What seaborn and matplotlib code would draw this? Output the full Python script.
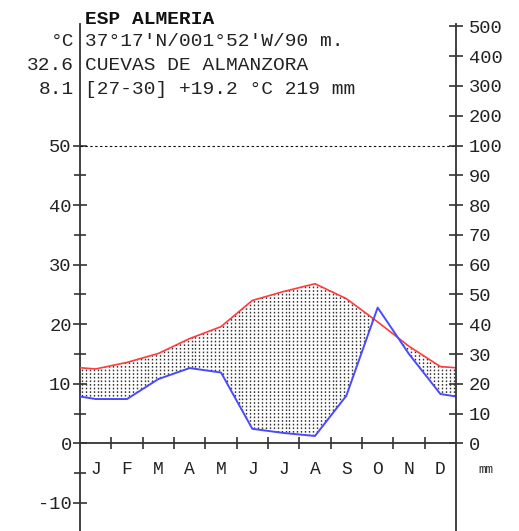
import numpy as np
import pandas as pd
import seaborn as sns
import matplotlib
matplotlib.use("Agg")
import matplotlib.pyplot as plt
from matplotlib.path import Path

months = ["J", "F", "M", "A", "M", "J", "J", "A", "S", "O", "N", "D"]
temp = [12.5, 13.6, 15.1, 17.6, 19.6, 24.0, 25.5, 26.8, 24.3, 20.4, 16.3, 12.9]
precip = [14.9, 14.9, 21.6, 25.3, 23.8, 4.9, 3.5, 2.5, 16.0, 45.6, 30.0, 16.6]
left_ticks = [50, 40, 30, 20, 10, 0, -10]
right_labels = ["0", "10", "20", "30", "40", "50", "60", "70", "80", "90", "100",
                "200", "300", "400", "500"]
header = ["ESP ALMERIA", "37°17'N/001°52'W/90 m.", "CUEVAS DE ALMANZORA",
          "[27-30] +19.2 °C 219 mm"]
side = ["°C", "32.6", "8.1"]

sns.set_theme(style="white")
plt.rcParams["font.family"] = ["Liberation Mono", "DejaVu Sans Mono"]

W, H = 519, 531
fig = plt.figure(figsize=(W / 100, H / 100), dpi=100)
ax = fig.add_axes([80 / W, 0, 376 / W, 507 / H])

# build series: edges = mean of Dec and Jan, months at centres
t = np.array(temp)
p = np.array(precip) / 2.0  # 20 mm = 10 °C
xs = np.concatenate([[0], np.arange(12) + 0.5, [12]])
te = (t[0] + t[-1]) / 2
pe = (p[0] + p[-1]) / 2
ts = np.concatenate([[te], t, [te]])
ps = np.concatenate([[pe], p, [pe]])
df = pd.DataFrame({"x": xs, "temp": ts, "prec": ps})

ylo, yhi = -14.7, 70.4
ax.set_xlim(0, 12)
ax.set_ylim(ylo, yhi)

# arid period: dotted vertical hatching clipped to the region
poly = ax.fill_between(df["x"], df["temp"], df["prec"], where=df["temp"] >= df["prec"],
                       interpolate=True, facecolor="none", edgecolor="none")
clip = Path.make_compound_path(*poly.get_paths())
vx = np.arange(0.06, 12, 0.125)
vl = ax.vlines(vx, 0, 40, colors="#333333", linewidth=1.0,
               linestyles=[(0, (1.2, 1.4))])
vl.set_clip_path(clip, ax.transData)

sns.lineplot(data=df, x="x", y="temp", sort=False, color="#ff3b3b", linewidth=1.2,
             ax=ax, zorder=4)
sns.lineplot(data=df, x="x", y="prec", sort=False, color="#4a4aff", linewidth=1.4,
             ax=ax, zorder=5)

ax.axhline(50, color="#111111", linewidth=0.8, linestyle=(0, (2.2, 2.2)), zorder=3)

# spines
for s in ["top", "right"]:
    ax.spines[s].set_visible(False)
ax.spines["bottom"].set_position(("data", 0))
for s in ["left", "bottom"]:
    ax.spines[s].set_color("#333333")
    ax.spines[s].set_linewidth(1.3)

ax.set_xlabel("")
ax.set_ylabel("")
ax.set_xticks(np.arange(1, 12))
ax.set_xticklabels([])
ax.set_xticks(np.arange(12) + 0.5, minor=True)
ax.set_xticklabels(months, minor=True)
ax.tick_params(axis="x", which="major", direction="inout", length=9, width=1.2,
               color="#333333", bottom=True)
ax.tick_params(axis="x", which="minor", length=0, pad=13, labelsize=13,
               labelcolor="#222222", bottom=True)

ax.set_yticks(left_ticks)
ax.set_yticklabels([str(v) for v in left_ticks])
ax.set_yticks(np.arange(-10, 51, 5), minor=True)
ax.tick_params(axis="y", which="major", direction="inout", length=10, width=1.2,
               color="#333333", labelsize=13.5, pad=1, labelcolor="#222222", left=True)
ax.tick_params(axis="y", which="minor", direction="inout", length=8, width=1.2,
               color="#333333", left=True)

ax2 = ax.twinx()
ax2.set_ylim(ylo, yhi)
for s in ["top", "left", "bottom"]:
    ax2.spines[s].set_visible(False)
ax2.spines["right"].set_color("#333333")
ax2.spines["right"].set_linewidth(1.3)
rpos = list(np.arange(0, 51, 5)) + [55, 60, 65, 70]
ax2.set_yticks(rpos)
ax2.set_yticklabels(right_labels)
ax2.tick_params(axis="y", direction="inout", length=10, width=1.2, color="#333333",
                labelsize=13.5, pad=4, labelcolor="#222222", right=True)
ax2.grid(False)
ax.grid(False)

def fx(px):
    return px / W

def fy(py):
    return 1 - py / H

fig.text(fx(85), fy(19), header[0], fontsize=14, fontweight="bold", va="center",
         ha="left", color="#111111")
rows_y = [42, 66, 89]
for i, yy in enumerate(rows_y):
    fig.text(fx(85), fy(yy), header[i + 1], fontsize=14, va="center", ha="left",
             color="#222222")
    fig.text(fx(74), fy(yy), side[i], fontsize=14, va="center", ha="right",
             color="#222222")
fig.text(fx(478), fy(470), "mm", fontsize=9, va="center", ha="left", color="#222222")

fig.savefig("out.png", dpi=100)
